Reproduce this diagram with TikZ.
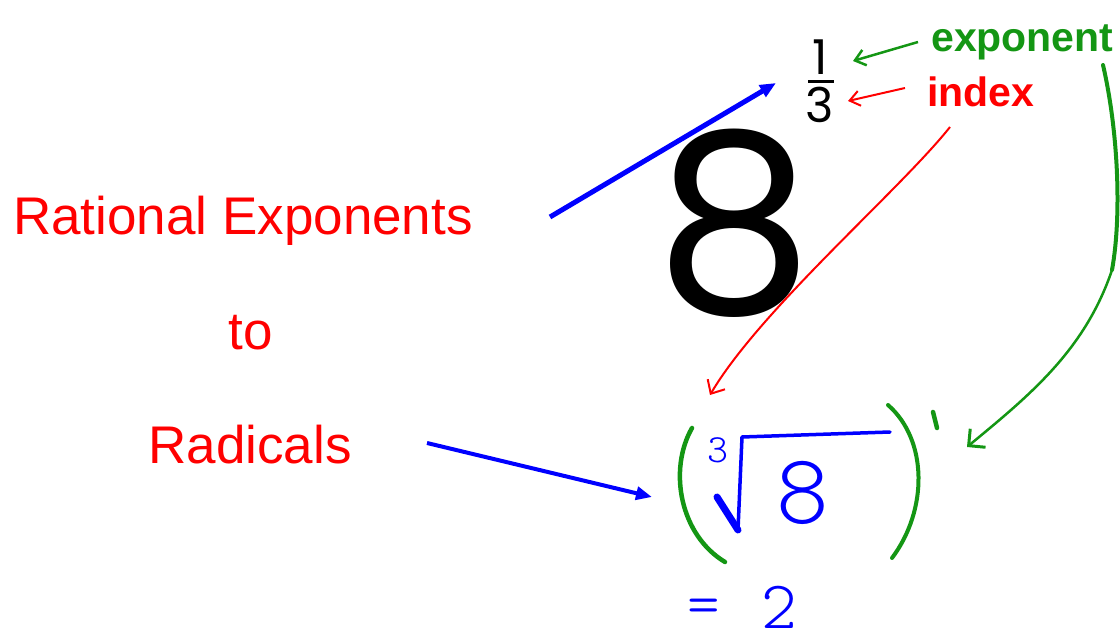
\documentclass[tikz,border=0pt]{standalone}
\usepackage{fontspec}
\setmainfont{Liberation Sans}
\newfontfamily\geo{Poppins}
\newfontfamily\hand{lmmonolt10-regular.otf}
\usetikzlibrary{arrows.meta}
\definecolor{rd}{RGB}{255,0,0}
\definecolor{bl}{RGB}{0,0,255}
\definecolor{gr}{RGB}{20,150,20}
\begin{document}
\begin{tikzpicture}[x=1pt,y=-1pt,
  title/.style={text=rd,inner sep=0pt,anchor=base,font=\fontsize{53}{60}\selectfont},
  fracdig/.style={inner sep=0pt,font=\geo\fontsize{48}{48}\selectfont},
  note/.style={inner sep=0pt,anchor=base west,font=\bfseries\fontsize{41}{41}\selectfont},
  bluehand/.style={text=bl,inner sep=0pt},
  bluearrow/.style={draw=bl,line width=5pt,-{Triangle[length=16pt,width=13pt]}}
]
\useasboundingbox (0,0) rectangle (1120,644);
% titles
\node[title] (rat) at (243,235) {Rational Exponents};
\node[title] (to) at (251,350) {to};
\node[title] (rad) at (250,464) {Radicals};
% big eight
\node[inner sep=0pt,anchor=base,font=\geo\fontsize{250}{250}\selectfont] (eight) at (734,313) {8};
% fraction
\node[fracdig,anchor=base] (num) at (820,75) {1};
\node[fracdig,anchor=base] (den) at (820,123) {3};
\draw[line width=3pt] (808,82) -- (834,82);
% labels
\node[note,text=gr] (exp) at (931,52) {exponent};
\node[note,text=rd] (idx) at (927,107) {index};
% label arrows
\coordinate (ga) at (918,42);
\coordinate (gb) at (853,61);
\draw[draw=gr,line width=2.5pt,-{Straight Barb[length=10pt,width=16pt,line width=2.5pt]}] (ga) -- (gb);
\coordinate (ra) at (905,88);
\coordinate (rb) at (848,101);
\draw[draw=rd,line width=2pt,-{Straight Barb[length=10pt,width=15pt,line width=2pt]}] (ra) -- (rb);
% blue arrows
\coordinate (b1s) at (550,217);
\coordinate (b1e) at (776,83);
\draw[bluearrow] (b1s) -- (b1e);
\coordinate (b2s) at (427,443);
\coordinate (b2e) at (652,497);
\draw[bluearrow,line width=4pt] (b2s) -- (b2e);
% red curve from index to radical index
\coordinate (rcs) at (950,127);
\coordinate (rce) at (710,395);
\draw[draw=rd,line width=2pt,-{Straight Barb[length=11pt,width=20pt,line width=2pt]}] (rcs) .. controls (900,190) and (760,310) .. (rce);
% green curve from exponent to outer power
\coordinate (gcs) at (1103,65);
\coordinate (gcm) at (1112,270);
\coordinate (gce) at (967,447);
\draw[draw=gr,line width=4pt,line cap=round] (gcs) .. controls (1118,130) and (1122,215) .. (gcm);
\draw[draw=gr,line width=2.5pt,-{Straight Barb[length=12pt,width=24pt,line width=3pt]}] (gcm) .. controls (1085,350) and (1030,395) .. (gce);
% green parentheses
\draw[draw=gr,line width=4.5pt,line cap=round] (692,428) .. controls (668,470) and (680,535) .. (725,562);
\draw[draw=gr,line width=4pt,line cap=round] (888,405) .. controls (928,440) and (928,510) .. (892,558);
\draw[draw=gr,line width=4.5pt,line cap=round] (933,412) -- (937,428);
% radical
\node[bluehand,font=\hand\fontsize{40}{40}\selectfont] (ri) at (718,450) {3};
\coordinate (r1) at (717,497);
\coordinate (r2) at (738,530);
\coordinate (r3) at (742,437);
\coordinate (r4) at (890,432);
\draw[draw=bl,line width=7pt,line cap=round] (r1) -- (r2);
\draw[draw=bl,line width=3.5pt,line cap=round,line join=round] (r2) -- (r3) -- (r4);
\node[bluehand,font=\hand\fontsize{100}{100}\selectfont] (r8) at (803,493) {8};
% = 2
\node[bluehand,font=\hand\fontsize{62}{62}\selectfont] (eq) at (704,612) {=};
\node[bluehand,font=\hand\fontsize{68}{68}\selectfont] (two) at (779,607) {2};
\end{tikzpicture}
\end{document}
